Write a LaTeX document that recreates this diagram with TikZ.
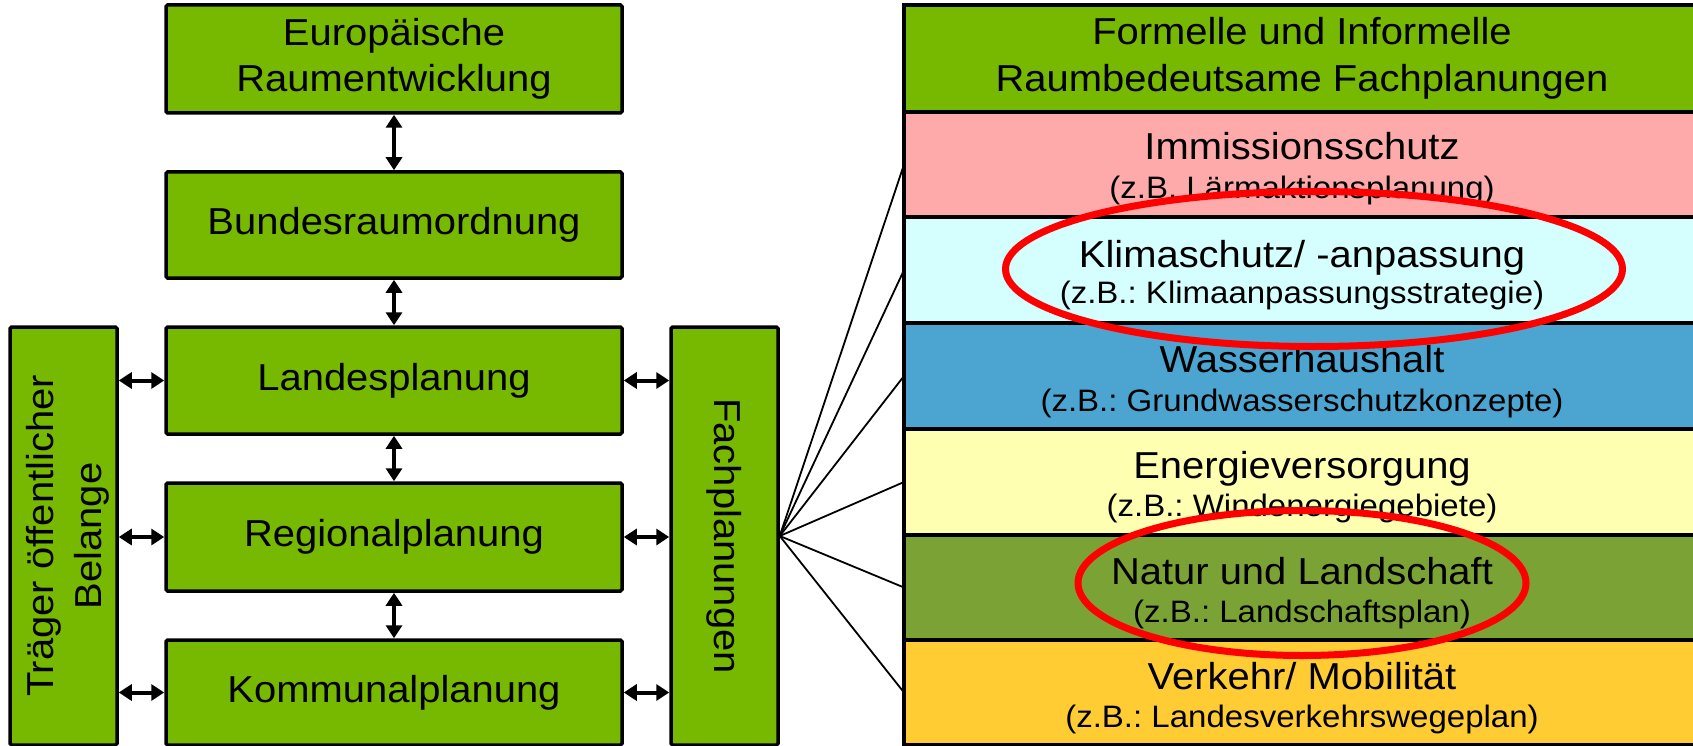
\documentclass[tikz,border=0pt]{standalone}
\usepackage{fontspec}
\setmainfont{Liberation Sans}[FakeStretch=1.065]
\usetikzlibrary{arrows.meta,shapes.geometric}
\definecolor{boxgreen}{RGB}{119,184,0}
\definecolor{rowpink}{RGB}{255,170,170}
\definecolor{rowcyan}{RGB}{213,255,255}
\definecolor{rowblue}{RGB}{75,165,208}
\definecolor{rowyellow}{RGB}{255,255,178}
\definecolor{rowolive}{RGB}{123,162,53}
\definecolor{rowgold}{RGB}{255,204,51}
\newcommand\txtL{\fontsize{37.5}{46}\selectfont}
\newcommand\txtS{\fontsize{31}{37}\selectfont}
\frenchspacing
\begin{document}
\begin{tikzpicture}[x=1pt,y=-1pt,
  gbox/.style={draw=black, line width=3.5pt, fill=boxgreen, rounded corners=1.5pt,
    inner sep=0pt, minimum width=456pt, align=center, font=\txtL},
  vbox/.style={gbox, minimum width=418pt, minimum height=107pt},
  rowbox/.style={draw=black, line width=3.5pt, minimum width=796pt, inner sep=0pt, outer sep=0pt},
  ttl/.style={anchor=base, font=\txtL, inner sep=0pt},
  sub/.style={anchor=base, font=\txtS, inner sep=0pt},
  fan/.style={line width=1.8pt},
  dbl/.style={{Triangle[length=13pt,width=16pt]}-{Triangle[length=13pt,width=16pt]}, line width=4pt},
  ring/.style={ellipse, draw=red, line width=7pt, inner sep=0pt}]
\useasboundingbox (0,0) rectangle (1693,746);

% left column
\node[gbox, minimum height=108pt] (eur) at (394,59) {Europäische\\Raumentwicklung};
\node[gbox, minimum height=106pt] (bund) at (394,225) {Bundesraumordnung};
\node[gbox, minimum height=107pt] (land) at (394,380.5) {Landesplanung};
\node[gbox, minimum height=108pt] (reg) at (394,537) {Regionalplanung};
\node[gbox, minimum height=105pt] (komm) at (394,692.5) {Kommunalplanung};
\node[vbox, rotate=90, align=center, text depth=0pt] (traeger) at (63.5,536) {Träger öffentlicher\\[2pt]Belange};
\node[vbox, rotate=-90] (fach) at (724.5,536) {Fachplanungen};

% arrows
\draw[dbl] (eur.south) -- (bund.north);
\draw[dbl] (bund.south) -- (land.north);
\draw[dbl] (land.south) -- (reg.north);
\draw[dbl] (reg.south) -- (komm.north);
\draw[dbl] (land.west -| traeger.south) -- (land.west);
\draw[dbl] (reg.west -| traeger.south) -- (reg.west);
\draw[dbl] (komm.west -| traeger.south) -- (komm.west);
\draw[dbl] (land.east) -- (land.east -| fach.south);
\draw[dbl] (reg.east) -- (reg.east -| fach.south);
\draw[dbl] (komm.east) -- (komm.east -| fach.south);

% table
\node[rowbox, fill=boxgreen, minimum height=107pt, align=center, font=\txtL] (head) at (1302,58.5) {Formelle und Informelle\\[1pt]Raumbedeutsame Fachplanungen};
\node[rowbox, fill=rowpink, minimum height=105pt] (imm) at (1302,164.5) {};
\node[rowbox, fill=rowcyan, minimum height=106pt] (klima) at (1302,270) {};
\node[rowbox, fill=rowblue, minimum height=106pt] (wasser) at (1302,376) {};
\node[rowbox, fill=rowyellow, minimum height=106pt] (energie) at (1302,482) {};
\node[rowbox, fill=rowolive, minimum height=105pt] (natur) at (1302,587.5) {};
\node[rowbox, fill=rowgold, minimum height=105pt] (verkehr) at (1302,692.5) {};
\draw[line width=3.5pt] (head.south west) -- (head.south east);

\node[ttl] (immT) at ([yshift=-48pt]imm.north) {Immissionsschutz};
\node[sub] (immS) at ([yshift=-86pt]imm.north) {(z.B. Lärmaktionsplanung)};
\node[ttl] (klimaT) at ([yshift=-50pt]klima.north) {Klimaschutz/ -anpassung};
\node[sub] (klimaS) at ([yshift=-86pt]klima.north) {(z.B.: Klimaanpassungsstrategie)};
\node[ttl] (wasserT) at ([yshift=-49pt]wasser.north) {Wasserhaushalt};
\node[sub] (wasserS) at ([yshift=-88pt]wasser.north) {(z.B.: Grundwasserschutzkonzepte)};
\node[ttl] (energieT) at ([yshift=-49pt]energie.north) {Energieversorgung};
\node[sub] (energieS) at ([yshift=-87pt]energie.north) {(z.B.: Windenergiegebiete)};
\node[ttl] (naturT) at ([yshift=-49pt]natur.north) {Natur und Landschaft};
\node[sub] (naturS) at ([yshift=-87pt]natur.north) {(z.B.: Landschaftsplan)};
\node[ttl] (verkehrT) at ([yshift=-49pt]verkehr.north) {Verkehr/ Mobilität};
\node[sub] (verkehrS) at ([yshift=-87pt]verkehr.north) {(z.B.: Landesverkehrswegeplan)};

% fan
\foreach \r in {imm,klima,wasser,energie,natur,verkehr}
  \draw[fan] (fach.north) -- (\r.west);

% highlight rings
\node[ring, minimum width=617pt, minimum height=155pt] (ring1) at (1314,269) {};
\node[ring, minimum width=448pt, minimum height=145pt] (ring2) at (1302,583) {};
\end{tikzpicture}
\end{document}
